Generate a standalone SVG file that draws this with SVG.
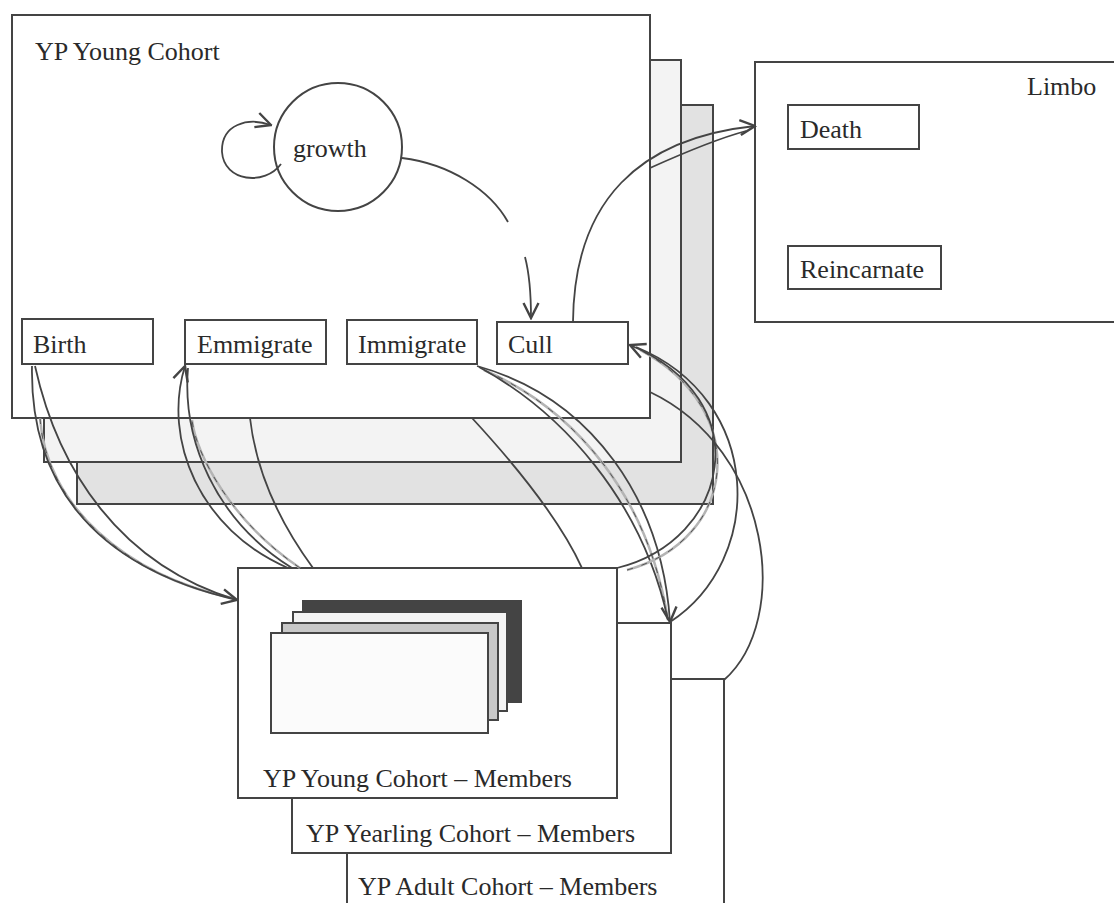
<svg xmlns="http://www.w3.org/2000/svg" width="1114" height="903" viewBox="0 0 1114 903">
  <style>
    .box { fill: #ffffff; stroke: #444444; stroke-width: 2; }
    .lbl { font-family: "Liberation Serif", "Times New Roman", serif; font-size: 26px; fill: #2a2a2a; }
    .link { fill: none; stroke: #444444; stroke-width: 1.8; }
    .ghost { fill: none; stroke: #b4b4b4; stroke-width: 2.5; }
    .ghostdash { fill: none; stroke: #555555; stroke-width: 1; stroke-dasharray: 6 9; }
  </style>
  <defs>
    <marker id="open" viewBox="0 0 12 12" refX="11" refY="6" markerWidth="18" markerHeight="18" markerUnits="userSpaceOnUse" orient="auto">
      <path d="M1,1 L11,6 L1,11" fill="none" stroke="#444444" stroke-width="1.6"/>
    </marker>
  </defs>
  <rect width="1114" height="903" fill="#ffffff"/>

  <!-- stacked cohort panels (back to front) -->
  <g id="panel-back">
    <rect x="77" y="105" width="636" height="399" fill="#e2e2e2" stroke="#444444" stroke-width="2"/>
  </g>
  <g id="panel-middle">
    <rect x="44" y="60" width="637" height="402" fill="#f3f3f3" stroke="#444444" stroke-width="2"/>
  </g>
  <g id="young-cohort">
    <rect class="box" x="12" y="15" width="638" height="403"/>
    <text class="lbl" x="35" y="60">YP Young Cohort</text>
  </g>

  <g id="growth">
    <circle cx="338" cy="147" r="64" fill="#ffffff" stroke="#444444" stroke-width="2"/>
    <text class="lbl" x="293" y="157">growth</text>
  </g>

  <g id="birth">
    <rect class="box" x="22" y="319" width="131" height="45"/>
    <text class="lbl" x="33" y="353">Birth</text>
  </g>
  <g id="emmigrate">
    <rect class="box" x="185" y="320" width="141" height="44"/>
    <text class="lbl" x="197" y="353">Emmigrate</text>
  </g>
  <g id="immigrate">
    <rect class="box" x="347" y="320" width="130" height="44"/>
    <text class="lbl" x="358" y="353">Immigrate</text>
  </g>
  <g id="cull">
    <rect class="box" x="497" y="322" width="131" height="42"/>
    <text class="lbl" x="508" y="353">Cull</text>
  </g>

  <!-- limbo area (runs off the right edge) -->
  <g id="limbo">
    <rect class="box" x="755" y="62" width="380" height="260"/>
    <text class="lbl" x="1027" y="95">Limbo</text>
  </g>
  <g id="death">
    <rect class="box" x="788" y="105" width="131" height="44"/>
    <text class="lbl" x="800" y="138">Death</text>
  </g>
  <g id="reincarnate">
    <rect class="box" x="788" y="246" width="153" height="43"/>
    <text class="lbl" x="800" y="278">Reincarnate</text>
  </g>

  <!-- member lists (back to front) -->
  <g id="adult-members">
    <rect class="box" x="347" y="679" width="377" height="240"/>
    <text class="lbl" x="358" y="895">YP Adult Cohort – Members</text>
  </g>
  <g id="yearling-members">
    <rect class="box" x="292" y="623" width="379" height="230"/>
    <text class="lbl" x="306" y="842">YP Yearling Cohort – Members</text>
  </g>
  <g id="young-members">
    <rect class="box" x="238" y="568" width="379" height="230"/>
    <rect x="303" y="601" width="218" height="101" fill="#444444" stroke="#444444" stroke-width="2"/>
    <rect x="293" y="612" width="214" height="99" fill="#f4f4f4" stroke="#444444" stroke-width="2"/>
    <rect x="282" y="623" width="216" height="97" fill="#c8c8c8" stroke="#444444" stroke-width="2"/>
    <rect x="271" y="633" width="217" height="100" fill="#fbfbfb" stroke="#444444" stroke-width="2"/>
    <text class="lbl" x="263" y="787">YP Young Cohort – Members</text>
  </g>

  <!-- connectors -->
  <g id="connectors">
    <!-- growth self loop and mortality -->
    <path class="link" d="M281,164 C265,186 224,182 222,152 C221,124 248,117 271,125" marker-end="url(#open)"/>
    <path class="link" d="M402,158 C450,164 490,190 508,222"/>
    <path class="link" d="M525,257 C530,276 531,296 531,318" marker-end="url(#open)"/>

    <!-- cull to limbo -->
    <path class="link" d="M573,322 C574,200 640,138 755,126" marker-end="url(#open)"/>
    <path class="link" d="M650,168 C690,150 720,138 746,131"/>

    <!-- birth to members -->
    <path class="ghost" d="M40,418 C46,505 125,575 232,598"/>
    <path class="ghostdash" d="M40,418 C46,505 125,575 232,598"/>
    <path class="link" d="M32,366 C30,475 85,565 237,600" marker-end="url(#open)"/>
    <path class="link" d="M35,366 C58,470 120,565 237,600"/>

    <!-- members to emmigrate -->
    <path class="ghost" d="M300,568 C232,522 196,455 192,420"/>
    <path class="ghostdash" d="M300,568 C232,522 196,455 192,420"/>
    <path class="link" d="M288,568 C200,530 162,440 185,366" marker-end="url(#open)"/>
    <path class="link" d="M292,568 C215,520 182,440 188,368"/>
    <path class="link" d="M313,568 C272,512 255,462 250,418"/>

    <!-- immigrate to yearling members -->
    <path class="ghost" d="M484,370 C575,410 648,495 668,620"/>
    <path class="ghostdash" d="M484,370 C575,410 648,495 668,620"/>
    <path class="link" d="M477,366 C592,398 662,500 670,622" marker-end="url(#open)"/>
    <path class="link" d="M479,367 C562,412 642,500 668,620"/>
    <path class="link" d="M472,418 C520,470 560,520 582,568"/>

    <!-- members back to cull -->
    <path class="ghost" d="M627,570 C738,540 752,410 640,350"/>
    <path class="ghostdash" d="M627,570 C738,540 752,410 640,350"/>
    <path class="link" d="M617,568 C730,540 760,400 630,345" marker-end="url(#open)"/>
    <path class="link" d="M670,622 C765,560 765,400 636,347"/>
    <path class="link" d="M724,680 C792,620 772,450 650,392"/>
  </g>
</svg>
